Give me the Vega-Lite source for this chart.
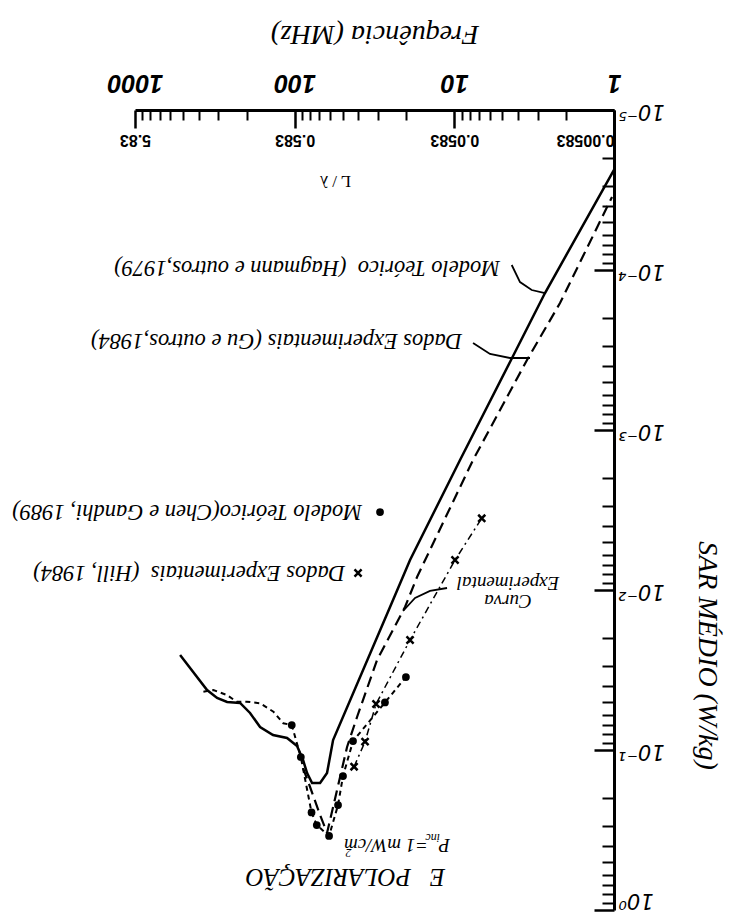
{
  "$schema": "https://vega.github.io/schema/vega-lite/v6.json",
  "width": 479,
  "height": 800,
  "autosize": "none",
  "padding": {"left": 135, "top": 110, "right": 121, "bottom": 10},
  "background": "white",
  "config": {
    "view": {"stroke": null},
    "axis": {"grid": false, "domainColor": "black", "tickColor": "black", "labelColor": "black", "titleColor": "black"}
  },
  "datasets": {
    "hag": [
      {"f": 1.0, "S": 0.0000237}, {"f": 2.705, "S": 0.0001393}, {"f": 4.351, "S": 0.0003548}, {"f": 9.21, "S": 0.00154},
      {"f": 18.94, "S": 0.006494}, {"f": 25.27, "S": 0.01277}, {"f": 57.46, "S": 0.0866}, {"f": 62.7, "S": 0.1393},
      {"f": 69.3, "S": 0.1608}, {"f": 77.8, "S": 0.1608}, {"f": 83.6, "S": 0.1393}, {"f": 88.6, "S": 0.1155},
      {"f": 96.6, "S": 0.0944}, {"f": 111.6, "S": 0.0841}, {"f": 136.6, "S": 0.0806}, {"f": 164.7, "S": 0.0718},
      {"f": 190.3, "S": 0.0587}, {"f": 219.8, "S": 0.0508}, {"f": 265.0, "S": 0.0501}, {"f": 306.1, "S": 0.0473},
      {"f": 353.7, "S": 0.0422}, {"f": 521.9, "S": 0.0255}
    ],
    "gu": [
      {"f": 1.029, "S": 0.00003497}, {"f": 2.178, "S": 0.0001608}, {"f": 3.505, "S": 0.0003652}, {"f": 7.635, "S": 0.00154},
      {"f": 17.12, "S": 0.00829}, {"f": 20.36, "S": 0.01277}, {"f": 30.48, "S": 0.02738}, {"f": 40.67, "S": 0.06218},
      {"f": 46.97, "S": 0.09578}, {"f": 51.95, "S": 0.1475}, {"f": 57.46, "S": 0.2271}, {"f": 62.7, "S": 0.3302},
      {"f": 69.34, "S": 0.2548}, {"f": 80.08, "S": 0.1703}, {"f": 88.6, "S": 0.1296}
    ],
    "chen": [
      {"f": 372.9, "S": 0.04321}, {"f": 322.9, "S": 0.04217}, {"f": 266.2, "S": 0.04532}, {"f": 230.5, "S": 0.04989},
      {"f": 199.5, "S": 0.04989}, {"f": 164.7, "S": 0.05105}, {"f": 135.9, "S": 0.05762}, {"f": 117.7, "S": 0.06809},
      {"f": 104.3, "S": 0.06981}, {"f": 91.5, "S": 0.1106}, {"f": 78.4, "S": 0.2458}, {"f": 72.7, "S": 0.2943},
      {"f": 60.9, "S": 0.3447}, {"f": 53.5, "S": 0.2207}, {"f": 49.8, "S": 0.1454}, {"f": 43.1, "S": 0.0879},
      {"f": 27.2, "S": 0.05046}, {"f": 20.1, "S": 0.03498}
    ],
    "hill": [
      {"f": 6.735, "S": 0.003563}, {"f": 9.9, "S": 0.006494}, {"f": 18.94, "S": 0.02054}, {"f": 30.93, "S": 0.05158},
      {"f": 36.24, "S": 0.08871}, {"f": 42.46, "S": 0.1272}
    ],
    "leaders": [
      {"k": "hag", "f": 4.371, "S": 0.00009306}, {"k": "hag", "f": 3.878, "S": 0.0001189}, {"k": "hag", "f": 3.276, "S": 0.0001334}, {"k": "hag", "f": 2.705, "S": 0.0001393},
      {"k": "gu", "f": 7.635, "S": 0.0002859}, {"k": "gu", "f": 5.977, "S": 0.000335}, {"k": "gu", "f": 4.48, "S": 0.0003548}, {"k": "gu", "f": 3.357, "S": 0.0003548},
      {"k": "curva", "f": 11.11, "S": 0.009716}, {"k": "curva", "f": 14.2, "S": 0.01014}, {"k": "curva", "f": 17.62, "S": 0.01122}, {"k": "curva", "f": 20.95, "S": 0.01353}
    ],
    "chenDots": [
      {"f": 104.3, "S": 0.06981}, {"f": 91.5, "S": 0.1106}, {"f": 78.4, "S": 0.2458}, {"f": 72.7, "S": 0.2943},
      {"f": 60.9, "S": 0.3447}, {"f": 53.5, "S": 0.2207}, {"f": 49.8, "S": 0.1454}, {"f": 43.1, "S": 0.0879},
      {"f": 27.2, "S": 0.05046}, {"f": 20.1, "S": 0.03498}, {"f": 29.2, "S": 0.003255}
    ],
    "hillX": [
      {"f": 6.735, "S": 0.003563}, {"f": 9.9, "S": 0.006494}, {"f": 18.94, "S": 0.02054}, {"f": 30.93, "S": 0.05158},
      {"f": 36.24, "S": 0.08871}, {"f": 42.46, "S": 0.1272}, {"f": 40.09, "S": 0.00783}
    ],
    "labels": [
      {"f": 5.174, "S": 0.00009716, "t": "Modelo Teórico\u00a0\u00a0(Hagmann e outros,1979)"},
      {"f": 8.949, "S": 0.0002778, "t": "Dados Experimentais (Gu e outros,1984)"},
      {"f": 37.84, "S": 0.003255, "t": "Modelo Teórico(Chen e Gandhi, 1989)"},
      {"f": 48.35, "S": 0.00783, "t": "Dados Experimentais\u00a0\u00a0(Hill, 1984)"}
    ],
    "curva": [
      {"f": 4.61, "S": 0.00904, "t": "Experimental"},
      {"f": 4.61, "S": 0.01175, "t": "Curva"}
    ],
    "pinc": [
      {"f": 10.64, "S": 0.3925, "t": "P"},
      {"f": 14.6, "S": 0.3925, "t": "=1 mW/cm"}
    ],
    "pincSmall": [
      {"f": 12.29, "S": 0.3548, "t": "inc"},
      {"f": 44.0, "S": 0.44, "t": "2"}
    ],
    "epol": [
      {"f": 11.43, "S": 0.622, "t": "E\u00a0\u00a0\u00a0POLARIZAÇÃO"}
    ]
  },
  "resolve": {"axis": {"x": "independent", "y": "independent"}},
  "layer": [
    {
      "data": {"name": "hag"},
      "mark": {"type": "line", "color": "black", "strokeWidth": 2.5},
      "encoding": {
        "x": {"field": "f", "type": "quantitative",
          "scale": {"type": "log", "domain": [1, 1000], "reverse": true, "nice": false},
          "axis": {"orient": "top", "values": [1, 10, 100, 1000], "ticks": false, "domain": true, "domainWidth": 3,
            "labelExpr": "datum.value + ''", "labelAngle": 180, "labelAlign": "center", "labelBaseline": "top",
            "labelFont": "Liberation Sans", "labelFontStyle": "italic", "labelFontWeight": "bold", "labelFontSize": 25,
            "labelPadding": 16, "labelOverlap": false, "labelBound": false,
            "title": "Frequência (MHz)", "titleAngle": 180, "titleBaseline": "top", "titleFont": "Liberation Serif",
            "titleFontStyle": "italic", "titleFontWeight": "normal", "titleFontSize": 28, "titlePadding": 22}},
        "y": {"field": "S", "type": "quantitative",
          "scale": {"type": "log", "domain": [0.00001, 1], "reverse": true, "nice": false},
          "axis": {"orient": "right", "values": [0.00001, 0.0001, 0.001, 0.01, 0.1, 1], "ticks": false, "domain": true, "domainWidth": 3,
            "labelExpr": "datum.value > 0.5 ? '10⁰' : datum.value > 0.05 ? '10⁻¹' : datum.value > 0.005 ? '10⁻²' : datum.value > 0.0005 ? '10⁻³' : datum.value > 0.00005 ? '10⁻⁴' : '10⁻⁵'",
            "labelAngle": 180, "labelAlign": "right",
            "labelBaseline": {"condition": {"test": "datum.value > 0.5", "value": "top"}, "value": "middle"},
            "labelFont": "DejaVu Sans", "labelFontStyle": "italic", "labelFontSize": 21, "labelPadding": 4,
            "labelOverlap": false, "labelBound": false,
            "title": "SAR MÉDIO (W/kg)", "titleAngle": 90, "titleFont": "Liberation Serif", "titleFontStyle": "italic",
            "titleFontWeight": "normal", "titleFontSize": 28, "titleX": 92, "titleY": 545, "titleAlign": "center", "titleBaseline": "middle"}}
      }
    },
    {
      "data": {"name": "gu"},
      "mark": {"type": "line", "color": "black", "strokeWidth": 2.2, "strokeDash": [11, 6]},
      "encoding": {
        "x": {"field": "f", "type": "quantitative",
          "scale": {"type": "log", "domain": [1, 1000], "reverse": true, "nice": false},
          "axis": {"orient": "bottom", "offset": -800, "values": [1, 10, 100, 1000], "domain": false, "ticks": true,
            "tickSize": 18, "tickWidth": 2.5,
            "labelExpr": "datum.value < 2 ? '0.00583' : datum.value < 20 ? '0.0583' : datum.value < 200 ? '0.583' : '5.83'",
            "labelAngle": 180, "labelAlign": {"condition": {"test": "datum.value < 2", "value": "left"}, "value": "center"},
            "labelBaseline": "bottom", "labelFont": "Liberation Sans", "labelFontWeight": "bold", "labelFontSize": 16,
            "labelPadding": 3, "labelOverlap": false, "labelBound": false,
            "title": "L / λ", "titleAngle": 180, "titleBaseline": "bottom", "titleFont": "Liberation Serif",
            "titleFontWeight": "normal", "titleFontSize": 17, "titlePadding": 24, "titleX": 200}},
        "y": {"field": "S", "type": "quantitative",
          "scale": {"type": "log", "domain": [0.00001, 1], "reverse": true, "nice": false},
          "axis": {"orient": "left", "offset": -479, "values": [0.00001, 0.0001, 0.001, 0.01, 0.1, 1], "domain": false,
            "tickSize": 20, "tickWidth": 2.5, "labels": false, "title": null}}
      }
    },
    {
      "data": {"name": "chen"},
      "mark": {"type": "line", "color": "black", "strokeWidth": 2, "strokeDash": [5, 4]},
      "encoding": {
        "x": {"field": "f", "type": "quantitative",
          "scale": {"type": "log", "domain": [1, 1000], "reverse": true, "nice": false},
          "axis": {"orient": "bottom", "offset": -800,
            "values": [2, 3, 4, 5, 6, 7, 8, 9, 20, 30, 40, 50, 60, 70, 80, 90, 200, 300, 400, 500, 600, 700, 800, 900],
            "domain": false, "tickSize": 10, "tickWidth": 2, "labels": false, "title": null}},
        "y": {"field": "S", "type": "quantitative",
          "scale": {"type": "log", "domain": [0.00001, 1], "reverse": true, "nice": false},
          "axis": {"orient": "left", "offset": -479,
            "values": [0.00002, 0.00003, 0.00004, 0.00005, 0.00006, 0.00007, 0.00008, 0.00009,
                       0.0002, 0.0003, 0.0004, 0.0005, 0.0006, 0.0007, 0.0008, 0.0009,
                       0.002, 0.003, 0.004, 0.005, 0.006, 0.007, 0.008, 0.009,
                       0.02, 0.03, 0.04, 0.05, 0.06, 0.07, 0.08, 0.09,
                       0.2, 0.3, 0.4, 0.5, 0.6, 0.7, 0.8, 0.9],
            "domain": false, "tickSize": 12, "tickWidth": 2, "labels": false, "title": null}}
      }
    },
    {
      "data": {"name": "hill"},
      "mark": {"type": "line", "color": "black", "strokeWidth": 1.5, "strokeDash": [7, 4, 2, 4]},
      "encoding": {
        "x": {"field": "f", "type": "quantitative", "scale": {"type": "log", "domain": [1, 1000], "reverse": true, "nice": false}, "axis": null},
        "y": {"field": "S", "type": "quantitative", "scale": {"type": "log", "domain": [0.00001, 1], "reverse": true, "nice": false}, "axis": null}
      }
    },
    {
      "data": {"name": "leaders"},
      "mark": {"type": "line", "color": "black", "strokeWidth": 1.8},
      "encoding": {
        "x": {"field": "f", "type": "quantitative", "scale": {"type": "log", "domain": [1, 1000], "reverse": true, "nice": false}, "axis": null},
        "y": {"field": "S", "type": "quantitative", "scale": {"type": "log", "domain": [0.00001, 1], "reverse": true, "nice": false}, "axis": null},
        "detail": {"field": "k", "type": "nominal"}
      }
    },
    {
      "data": {"name": "chenDots"},
      "mark": {"type": "point", "filled": true, "color": "black", "size": 60, "opacity": 1},
      "encoding": {
        "x": {"field": "f", "type": "quantitative", "scale": {"type": "log", "domain": [1, 1000], "reverse": true, "nice": false}, "axis": null},
        "y": {"field": "S", "type": "quantitative", "scale": {"type": "log", "domain": [0.00001, 1], "reverse": true, "nice": false}, "axis": null}
      }
    },
    {
      "data": {"name": "hillX"},
      "mark": {"type": "point", "shape": "M-1,-1L1,1M1,-1L-1,1", "filled": false, "color": "black", "strokeWidth": 2.5, "size": 50, "opacity": 1},
      "encoding": {
        "x": {"field": "f", "type": "quantitative", "scale": {"type": "log", "domain": [1, 1000], "reverse": true, "nice": false}, "axis": null},
        "y": {"field": "S", "type": "quantitative", "scale": {"type": "log", "domain": [0.00001, 1], "reverse": true, "nice": false}, "axis": null}
      }
    },
    {
      "data": {"name": "labels"},
      "mark": {"type": "text", "angle": 180, "align": "left", "baseline": "middle", "font": "Liberation Serif", "fontStyle": "italic", "fontSize": 22.5, "color": "black"},
      "encoding": {
        "x": {"field": "f", "type": "quantitative", "scale": {"type": "log", "domain": [1, 1000], "reverse": true, "nice": false}, "axis": null},
        "y": {"field": "S", "type": "quantitative", "scale": {"type": "log", "domain": [0.00001, 1], "reverse": true, "nice": false}, "axis": null},
        "text": {"field": "t"}
      }
    },
    {
      "data": {"name": "curva"},
      "mark": {"type": "text", "angle": 180, "align": "center", "baseline": "middle", "font": "Liberation Serif", "fontStyle": "italic", "fontSize": 19, "color": "black"},
      "encoding": {
        "x": {"field": "f", "type": "quantitative", "scale": {"type": "log", "domain": [1, 1000], "reverse": true, "nice": false}, "axis": null},
        "y": {"field": "S", "type": "quantitative", "scale": {"type": "log", "domain": [0.00001, 1], "reverse": true, "nice": false}, "axis": null},
        "text": {"field": "t"}
      }
    },
    {
      "data": {"name": "pinc"},
      "mark": {"type": "text", "angle": 180, "align": "left", "baseline": "middle", "font": "Liberation Serif", "fontStyle": "italic", "fontSize": 19, "color": "black"},
      "encoding": {
        "x": {"field": "f", "type": "quantitative", "scale": {"type": "log", "domain": [1, 1000], "reverse": true, "nice": false}, "axis": null},
        "y": {"field": "S", "type": "quantitative", "scale": {"type": "log", "domain": [0.00001, 1], "reverse": true, "nice": false}, "axis": null},
        "text": {"field": "t"}
      }
    },
    {
      "data": {"name": "pincSmall"},
      "mark": {"type": "text", "angle": 180, "align": "left", "baseline": "middle", "font": "Liberation Serif", "fontStyle": "italic", "fontSize": 12, "color": "black"},
      "encoding": {
        "x": {"field": "f", "type": "quantitative", "scale": {"type": "log", "domain": [1, 1000], "reverse": true, "nice": false}, "axis": null},
        "y": {"field": "S", "type": "quantitative", "scale": {"type": "log", "domain": [0.00001, 1], "reverse": true, "nice": false}, "axis": null},
        "text": {"field": "t"}
      }
    },
    {
      "data": {"name": "epol"},
      "mark": {"type": "text", "angle": 180, "align": "left", "baseline": "middle", "font": "Liberation Serif", "fontStyle": "italic", "fontSize": 25, "color": "black"},
      "encoding": {
        "x": {"field": "f", "type": "quantitative", "scale": {"type": "log", "domain": [1, 1000], "reverse": true, "nice": false}, "axis": null},
        "y": {"field": "S", "type": "quantitative", "scale": {"type": "log", "domain": [0.00001, 1], "reverse": true, "nice": false}, "axis": null},
        "text": {"field": "t"}
      }
    }
  ]
}
